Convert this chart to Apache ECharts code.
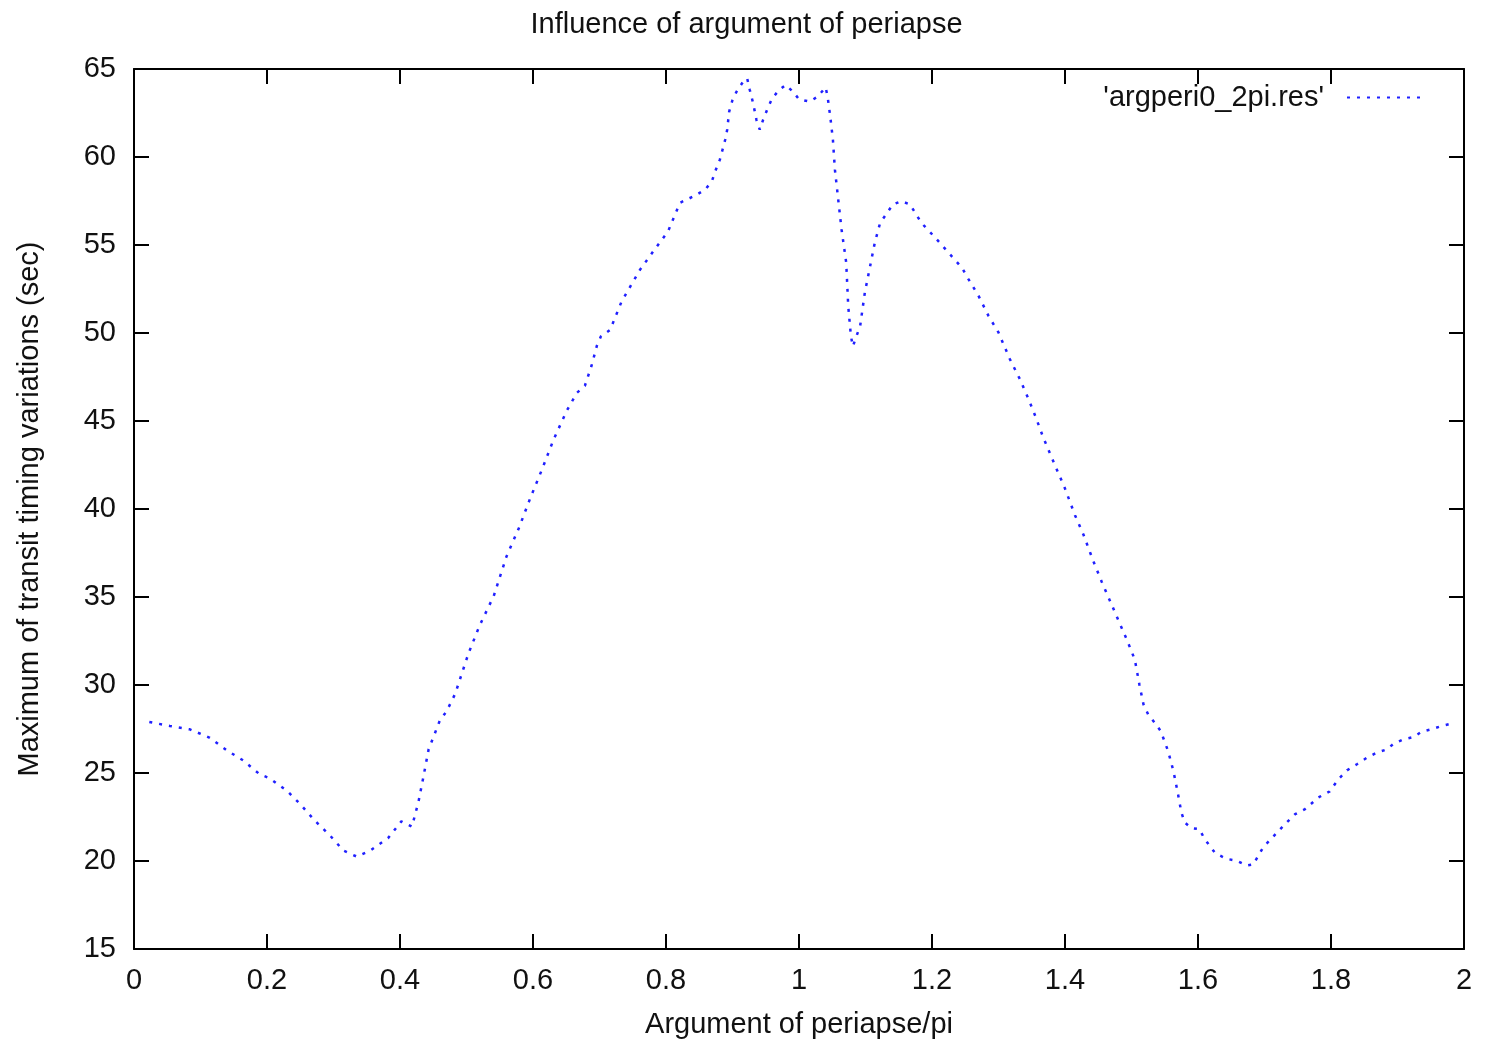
<!DOCTYPE html>
<html>
<head>
<meta charset="utf-8">
<script src="https://cdn.jsdelivr.net/npm/echarts@6/dist/echarts.min.js"></script>
<style>
html,body{margin:0;padding:0;background:#fff;}
#chart{width:1493px;height:1044px;}
</style>
</head>
<body>
<div id="chart"></div>
<script>
const chartTitle = "Influence of argument of periapse";
const xAxisName = "Argument of periapse/pi";
const yAxisName = "Maximum of transit timing variations (sec)";
const seriesName = "'argperi0_2pi.res'";

const argPeri = [0.023,0.054,0.084,0.114,0.139,0.164,0.189,0.204,0.23,0.25,0.272,0.295,0.315,0.335,0.355,0.382,0.402,0.418,0.428,0.435,0.443,0.46,0.47,0.483,0.503,0.52,0.541,0.56,0.579,0.596,0.614,0.631,0.651,0.666,0.678,0.688,0.696,0.702,0.716,0.733,0.761,0.783,0.803,0.821,0.844,0.859,0.869,0.874,0.881,0.885,0.889,0.892,0.895,0.9,0.906,0.916,0.922,0.926,0.931,0.936,0.941,0.946,0.952,0.959,0.969,0.98,0.991,1.0,1.016,1.028,1.04,1.043,1.047,1.051,1.054,1.059,1.064,1.071,1.074,1.078,1.081,1.092,1.099,1.107,1.114,1.122,1.132,1.141,1.154,1.167,1.184,1.205,1.227,1.245,1.255,1.27,1.285,1.3,1.317,1.332,1.345,1.357,1.367,1.385,1.4,1.415,1.428,1.443,1.455,1.468,1.48,1.493,1.505,1.512,1.518,1.525,1.535,1.544,1.555,1.563,1.569,1.575,1.58,1.59,1.602,1.61,1.626,1.643,1.658,1.673,1.683,1.698,1.713,1.731,1.746,1.761,1.781,1.798,1.811,1.824,1.839,1.854,1.869,1.884,1.894,1.909,1.924,1.936,1.951,1.966,1.98];

const maxTTV = [27.9,27.67,27.48,27.0,26.3,25.72,24.93,24.7,23.99,23.23,22.29,21.44,20.59,20.25,20.59,21.3,22.25,21.95,23.4,24.74,26.34,27.99,28.5,29.5,31.8,33.4,35.06,37.29,38.94,40.63,42.29,43.95,45.6,46.6,47.0,48.14,49.27,49.8,50.18,51.77,53.6,54.75,55.77,57.4,57.81,58.15,58.62,59.19,59.85,60.41,60.98,61.55,62.58,63.24,63.71,64.28,64.47,63.81,63.06,62.11,61.55,62.11,62.68,63.28,63.77,64.09,63.71,63.28,63.15,63.43,63.96,63.43,62.3,60.98,59.28,57.58,55.88,54.0,51.54,49.84,49.24,50.41,52.3,53.81,55.13,56.26,56.79,57.3,57.49,57.3,56.26,55.41,54.47,53.71,53.05,52.11,50.97,50.03,48.52,47.39,46.26,45.12,44.09,42.48,41.16,39.65,38.52,37.0,35.88,34.75,33.7,32.57,31.44,30.0,28.9,28.33,27.85,27.38,26.25,25.12,23.99,22.76,22.19,21.87,21.81,21.25,20.44,20.12,20.02,19.74,19.8,20.78,21.38,22.1,22.66,22.95,23.61,23.95,24.64,25.15,25.5,25.87,26.16,26.34,26.66,26.91,27.04,27.34,27.48,27.67,27.8];

const xRange = {min: 0, max: 2, interval: 0.2};
const yRange = {min: 15, max: 65, interval: 5};

const data = argPeri.map((x, i) => [x, maxTTV[i]]);

const FONT = "'Liberation Sans', Arial, sans-serif";
const FS = 29;
const TXT = '#111';
const AX = {lineStyle: {color: '#000', width: 2}};
const TICK = {show: true, inside: true, length: 15, lineStyle: {color: '#000', width: 2}};

const chart = echarts.init(document.getElementById('chart'), null, {renderer: 'canvas'});
chart.setOption({
  animation: false,
  backgroundColor: '#fff',
  textStyle: {fontFamily: FONT},
  title: {
    text: chartTitle, left: 'center', top: 5,
    textStyle: {fontFamily: FONT, fontSize: FS, fontWeight: 'normal', color: TXT}
  },
  legend: {
    right: 60, top: 78, align: 'right',
    itemWidth: 80, itemHeight: 14,
    data: [seriesName],
    itemStyle: {opacity: 0},
    textStyle: {fontFamily: FONT, fontSize: FS, color: TXT, padding: [0, 18, 0, 0]}
  },
  grid: {left: 134, right: 29, top: 69, bottom: 91, containLabel: false},
  xAxis: [
    {
      type: 'value', position: 'bottom', min: xRange.min, max: xRange.max, interval: xRange.interval,
      name: xAxisName, nameLocation: 'middle', nameGap: 61,
      nameTextStyle: {fontFamily: FONT, fontSize: FS, color: TXT},
      axisLine: Object.assign({show: true, onZero: false}, AX),
      axisTick: TICK,
      axisLabel: {fontFamily: FONT, fontSize: FS, color: TXT, margin: 17,
        formatter: v => String(Math.round(v * 10) / 10)},
      splitLine: {show: false}
    },
    {
      type: 'value', position: 'top', min: xRange.min, max: xRange.max, interval: xRange.interval,
      axisLine: Object.assign({show: true, onZero: false}, AX),
      axisTick: TICK, axisLabel: {show: false}, splitLine: {show: false}
    }
  ],
  yAxis: [
    {
      type: 'value', position: 'left', min: yRange.min, max: yRange.max, interval: yRange.interval,
      name: yAxisName, nameLocation: 'middle', nameGap: 90, nameRotate: 90,
      nameTextStyle: {fontFamily: FONT, fontSize: FS, color: TXT},
      axisLine: Object.assign({show: true, onZero: false}, AX),
      axisTick: TICK,
      axisLabel: {fontFamily: FONT, fontSize: FS, color: TXT, margin: 18},
      splitLine: {show: false}
    },
    {
      type: 'value', position: 'right', min: yRange.min, max: yRange.max, interval: yRange.interval,
      axisLine: Object.assign({show: true, onZero: false}, AX),
      axisTick: TICK, axisLabel: {show: false}, splitLine: {show: false}
    }
  ],
  series: [{
    name: seriesName,
    type: 'line',
    xAxisIndex: 0, yAxisIndex: 0,
    data: data,
    symbol: 'none', showSymbol: false,
    smooth: false,
    lineStyle: {color: '#2020ff', width: 2.5, type: [3, 7]},
    itemStyle: {color: '#2020ff'}
  }]
});
</script>
</body>
</html>
